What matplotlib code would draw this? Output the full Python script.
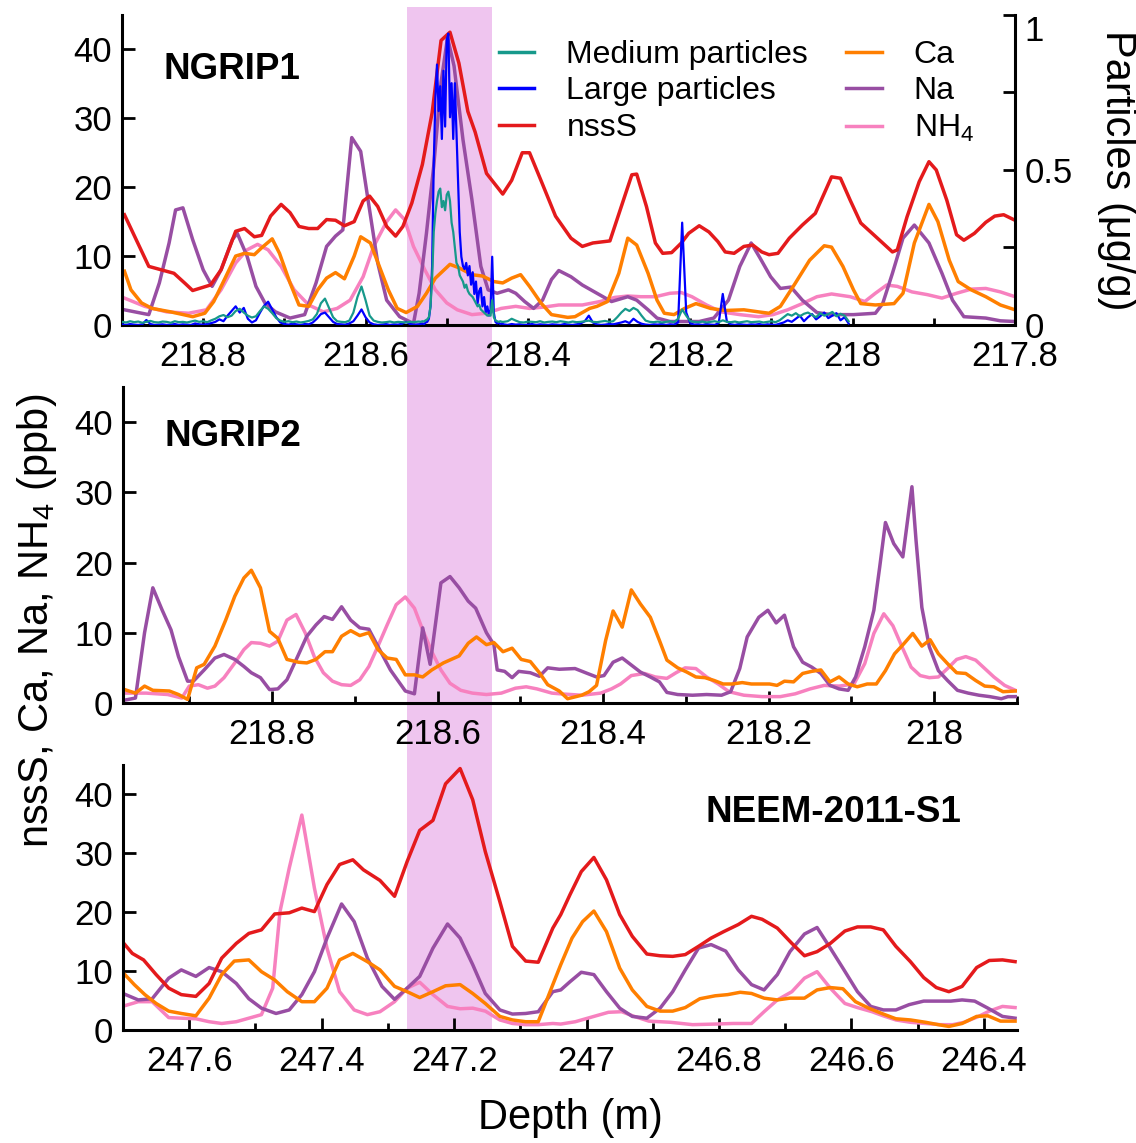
import numpy as np
import matplotlib
matplotlib.use("Agg")
import matplotlib.pyplot as plt
from matplotlib.ticker import MultipleLocator, FuncFormatter
from matplotlib.lines import Line2D
from matplotlib.patches import Rectangle

plt.rcParams['font.family'] = ['Liberation Sans', 'DejaVu Sans']
plt.rcParams['mathtext.fontset'] = 'custom'
plt.rcParams['mathtext.rm'] = 'Liberation Sans'
plt.rcParams['mathtext.it'] = 'Liberation Sans:italic'
plt.rcParams['mathtext.bf'] = 'Liberation Sans:bold'
plt.rcParams['mathtext.default'] = 'regular'

C_NSSS = '#e41a1c'
C_CA = '#ff7f00'
C_NA = '#984ea3'
C_NH4 = '#f781bf'
C_MED = '#17998b'
C_LARGE = '#0000ff'
C_BAND = '#efc5ef'

# ---------------- NGRIP1 (depth m, ppb) ----------------
N1_NSSS = [(218.897, 16.0), (218.867, 8.5), (218.836, 7.5), (218.822, 6.0), (218.813, 5.0), (218.791, 5.8),
           (218.778, 8.0), (218.760, 13.6), (218.749, 14.0), (218.737, 12.8), (218.728, 13.0), (218.717, 15.8),
           (218.704, 17.5), (218.693, 16.3), (218.682, 14.3), (218.670, 14.0), (218.659, 14.0), (218.648, 15.3),
           (218.637, 15.2), (218.626, 14.4), (218.614, 15.0), (218.603, 18.0), (218.595, 18.7), (218.585, 17.2),
           (218.574, 14.3), (218.563, 12.9), (218.554, 14.3), (218.543, 17.7), (218.530, 23.3), (218.518, 30.8),
           (218.507, 41.3), (218.496, 42.5), (218.485, 38.0), (218.474, 31.0), (218.465, 28.0), (218.451, 22.0),
           (218.431, 19.0), (218.420, 21.0), (218.407, 25.0), (218.398, 25.0), (218.384, 21.0), (218.366, 15.8),
           (218.347, 12.6), (218.333, 11.4), (218.320, 11.9), (218.299, 12.2), (218.281, 18.6), (218.272, 21.8),
           (218.266, 21.9), (218.254, 17.2), (218.243, 11.9), (218.234, 10.4), (218.223, 10.5), (218.211, 11.9),
           (218.202, 13.3), (218.189, 14.4), (218.177, 13.5), (218.166, 12.1), (218.157, 10.6), (218.146, 10.4),
           (218.134, 11.4), (218.123, 11.6), (218.112, 10.6), (218.103, 10.2), (218.092, 10.4), (218.078, 12.6),
           (218.062, 14.5), (218.046, 16.2), (218.035, 19.1), (218.026, 21.5), (218.015, 21.3), (218.003, 18.1),
           (217.990, 14.8), (217.976, 13.3), (217.963, 11.9), (217.951, 10.6), (217.945, 10.9), (217.933, 15.7),
           (217.918, 20.8), (217.906, 23.7), (217.897, 22.5), (217.884, 18.1), (217.872, 13.1), (217.863, 12.3),
           (217.850, 13.3), (217.836, 14.9), (217.825, 15.8), (217.814, 16.0), (217.800, 15.2)]

N1_CA = [(218.897, 7.8), (218.889, 5.1), (218.876, 3.2), (218.863, 2.4), (218.840, 1.9), (218.813, 1.2),
         (218.798, 1.7), (218.787, 3.4), (218.773, 6.8), (218.760, 10.0), (218.749, 10.4), (218.737, 10.2),
         (218.728, 11.2), (218.715, 12.5), (218.706, 10.4), (218.693, 6.1), (218.682, 2.9), (218.670, 2.7),
         (218.659, 5.1), (218.648, 6.8), (218.637, 7.6), (218.626, 6.7), (218.614, 10.0), (218.606, 12.8),
         (218.594, 11.9), (218.583, 8.5), (218.572, 5.1), (218.561, 2.4), (218.550, 1.8), (218.536, 2.7),
         (218.525, 4.6), (218.514, 6.8), (218.496, 8.8), (218.485, 8.3), (218.469, 7.3), (218.456, 7.1),
         (218.442, 6.3), (218.431, 6.1), (218.420, 6.8), (218.409, 7.3), (218.398, 5.6), (218.384, 3.2),
         (218.371, 1.5), (218.351, 1.1), (218.342, 1.2), (218.324, 2.4), (218.315, 2.7), (218.302, 3.4),
         (218.288, 7.5), (218.277, 12.6), (218.266, 11.6), (218.252, 7.5), (218.241, 3.6), (218.232, 1.7),
         (218.220, 1.5), (218.207, 2.4), (218.193, 3.1), (218.175, 2.4), (218.157, 2.1), (218.134, 2.2),
         (218.116, 1.9), (218.103, 1.7), (218.089, 2.7), (218.071, 6.0), (218.053, 9.4), (218.035, 11.5),
         (218.026, 11.3), (218.012, 8.5), (217.999, 5.1), (217.990, 3.1), (217.972, 2.9), (217.949, 3.1),
         (217.938, 4.6), (217.924, 11.9), (217.906, 17.5), (217.895, 15.0), (217.881, 9.4), (217.870, 6.3),
         (217.854, 5.1), (217.836, 4.1), (217.818, 2.9), (217.800, 2.2)]

N1_NA = [(218.897, 2.2), (218.867, 1.5), (218.854, 6.1), (218.842, 11.9), (218.834, 16.7), (218.825, 17.0),
         (218.813, 12.4), (218.800, 8.0), (218.789, 5.6), (218.778, 8.0), (218.764, 12.4), (218.758, 13.3),
         (218.746, 10.0), (218.735, 5.6), (218.724, 3.2), (218.711, 1.9), (218.693, 1.0), (218.675, 1.5),
         (218.661, 6.1), (218.648, 11.4), (218.637, 12.9), (218.628, 13.8), (218.617, 27.2), (218.606, 25.2),
         (218.597, 18.2), (218.585, 9.0), (218.574, 3.6), (218.558, 1.2), (218.541, 0.2), (218.534, 4.6),
         (218.525, 13.3), (218.516, 23.1), (218.507, 35.2), (218.499, 41.7), (218.491, 37.6), (218.480, 26.9),
         (218.469, 18.2), (218.458, 8.5), (218.449, 5.1), (218.438, 4.6), (218.424, 5.1), (218.415, 4.6),
         (218.404, 3.4), (218.393, 2.4), (218.382, 3.6), (218.371, 6.6), (218.362, 7.9), (218.347, 7.0),
         (218.333, 5.8), (218.315, 4.6), (218.297, 3.4), (218.277, 4.1), (218.266, 3.6), (218.252, 2.2),
         (218.241, 1.0), (218.225, 0.5), (218.207, 0.5), (218.189, 0.5), (218.171, 1.0), (218.153, 3.6),
         (218.139, 8.5), (218.125, 11.9), (218.114, 9.7), (218.101, 7.0), (218.089, 5.3), (218.076, 5.5),
         (218.062, 3.6), (218.044, 1.8), (218.026, 1.5), (217.999, 1.5), (217.972, 1.7), (217.963, 3.1),
         (217.951, 7.5), (217.938, 12.6), (217.924, 14.5), (217.906, 11.9), (217.890, 7.5), (217.877, 3.6),
         (217.863, 1.2), (217.836, 1.0), (217.818, 0.6), (217.800, 0.5)]

N1_NH4 = [(218.897, 3.9), (218.872, 2.7), (218.845, 1.9), (218.818, 1.7), (218.796, 2.2), (218.778, 5.1),
          (218.760, 9.0), (218.746, 10.9), (218.733, 11.7), (218.720, 10.9), (218.704, 8.5), (218.688, 5.1),
          (218.670, 2.9), (218.652, 1.9), (218.635, 2.4), (218.619, 3.6), (218.603, 7.0), (218.590, 11.4),
          (218.574, 15.0), (218.563, 16.7), (218.552, 15.3), (218.541, 11.4), (218.527, 8.0), (218.514, 5.1),
          (218.500, 3.2), (218.487, 2.2), (218.469, 1.5), (218.451, 1.7), (218.433, 2.4), (218.415, 2.7),
          (218.398, 2.4), (218.380, 2.6), (218.362, 2.9), (218.333, 2.9), (218.311, 3.4), (218.293, 4.0),
          (218.277, 4.2), (218.261, 4.1), (218.243, 4.1), (218.225, 4.6), (218.211, 4.7), (218.198, 4.1),
          (218.180, 2.9), (218.162, 1.9), (218.139, 1.5), (218.116, 1.2), (218.098, 1.5), (218.080, 2.2),
          (218.062, 3.1), (218.044, 4.1), (218.026, 4.5), (218.003, 4.1), (217.985, 3.4), (217.972, 4.6),
          (217.958, 5.8), (217.945, 5.6), (217.927, 4.8), (217.908, 4.4), (217.890, 3.9), (217.872, 4.6),
          (217.854, 5.2), (217.836, 5.3), (217.818, 4.8), (217.800, 4.1)]

# Particles (ug/g, given in units of 0.001 ug/g), three sampling segments
PART_A_START, PART_A_STEP = 218.900, 0.005
MED_A = [10, 8, 12, 9, 11, 7, 10, 13, 9, 8,
         11, 10, 7, 12, 9, 10, 8, 11, 14, 10,
         12, 9, 15, 20, 28, 32, 25, 30, 45, 52,
         40, 30, 24, 28, 45, 60, 52, 38, 22, 14,
         10, 12, 9, 11, 8, 10, 13, 18, 35, 70,
         85, 55, 25, 12, 10, 9, 14, 40, 90, 124,
         80, 30, 14, 10, 8, 9, 11, 8, 10, 9,
         8, 10, 9, 11]
LARGE_A = [2, 0, 3, 1, 0, 2, 16, 3, 0, 1,
           2, 0, 1, 3, 0, 2, 1, 0, 5, 2,
           1, 3, 6, 10, 18, 12, 30, 45, 60, 40,
           55, 20, 8, 15, 40, 62, 75, 50, 25, 8,
           3, 1, 4, 2, 0, 3, 2, 8, 20, 35,
           40, 25, 10, 3, 2, 1, 5, 12, 30, 50,
           25, 8, 2, 0, 1, 3, 0, 2, 1, 4,
           10, 3, 1, 2]
PART_B_START, PART_B_STEP = 218.532, 0.002
MED_B = [10, 12, 11, 15, 18, 25, 60, 150, 300, 360,
         400, 430, 440, 380, 400, 370, 420, 430, 400, 330,
         300, 250, 200, 190, 160, 150, 140, 120, 130, 110,
         100, 95, 90, 80, 70, 60, 65, 50, 45, 40,
         35, 30, 32, 30, 80, 25, 15, 12, 10, 12,
         10]
LARGE_B = [3, 5, 2, 8, 10, 20, 60, 190, 520, 730,
           840, 690, 770, 600, 820, 640, 920, 940, 670, 780,
           600, 780, 620, 460, 300, 220, 190, 180, 200, 160,
           190, 130, 170, 100, 140, 70, 110, 120, 60, 90,
           40, 60, 30, 50, 220, 40, 10, 5, 8, 3,
           5]
PART_C_START, PART_C_STEP = 218.430, 0.005
MED_C = [10, 12, 20, 14, 9, 8, 11, 10, 9, 12,
         8, 10, 11, 9, 12, 10, 8, 11, 9, 10,
         12, 14, 10, 9, 11, 13, 10, 12, 25, 40,
         52, 45, 55, 48, 30, 14, 10, 9, 11, 8,
         10, 12, 9, 20, 50, 30, 12, 10, 9, 11,
         8, 10, 12, 9, 15, 10, 9, 11, 8, 10,
         12, 9, 10, 11, 8, 10, 12, 9, 15, 25,
         35, 30, 38, 28, 36, 40, 32, 25, 38, 30,
         35, 42, 28, 36, 30, 12]
LARGE_C = [2, 0, 3, 1, 2, 0, 1, 3, 0, 2,
           1, 0, 2, 1, 0, 3, 1, 0, 2, 5,
           12, 30, 8, 2, 0, 1, 3, 2, 5, 8,
           12, 6, 20, 10, 4, 1, 0, 2, 1, 3,
           0, 2, 1, 8, 330, 40, 5, 1, 2, 0,
           3, 1, 0, 6, 100, 12, 2, 0, 3, 1,
           0, 2, 1, 3, 0, 2, 1, 0, 4, 8,
           15, 10, 20, 30, 12, 25, 35, 18, 28, 40,
           22, 30, 38, 15, 25, 5]

# ---------------- NGRIP2 ----------------
N2_CA = [(218.978, 1.9), (218.965, 1.4), (218.954, 2.4), (218.944, 1.8), (218.924, 1.7), (218.913, 1.2),
         (218.902, 0.5), (218.891, 5.0), (218.882, 5.5), (218.869, 8.1), (218.856, 11.8), (218.845, 15.2),
         (218.834, 17.8), (218.825, 18.9), (218.814, 16.4), (218.803, 10.2), (218.793, 9.2), (218.782, 6.2),
         (218.768, 5.8), (218.758, 5.7), (218.747, 6.2), (218.736, 7.3), (218.727, 7.3), (218.716, 9.5),
         (218.705, 10.3), (218.694, 9.6), (218.683, 10.0), (218.672, 7.6), (218.661, 6.4), (218.650, 6.2),
         (218.639, 4.0), (218.628, 4.0), (218.618, 3.7), (218.607, 4.7), (218.593, 5.7), (218.574, 6.7),
         (218.563, 8.5), (218.553, 9.4), (218.541, 8.3), (218.532, 8.6), (218.521, 7.3), (218.510, 7.8),
         (218.499, 6.2), (218.488, 5.9), (218.477, 4.3), (218.467, 2.6), (218.453, 1.7), (218.443, 0.6),
         (218.426, 1.1), (218.417, 1.6), (218.408, 2.5), (218.397, 8.9), (218.388, 13.1), (218.377, 10.8),
         (218.366, 16.1), (218.355, 14.1), (218.343, 12.2), (218.332, 8.9), (218.323, 6.1), (218.310, 5.0),
         (218.299, 4.4), (218.288, 3.7), (218.277, 3.6), (218.266, 3.2), (218.255, 2.7), (218.244, 2.7),
         (218.232, 2.9), (218.221, 2.7), (218.210, 2.7), (218.199, 2.7), (218.190, 2.5), (218.181, 3.1),
         (218.170, 3.0), (218.159, 4.2), (218.148, 4.5), (218.137, 4.7), (218.126, 3.0), (218.115, 3.7),
         (218.104, 2.7), (218.093, 2.3), (218.081, 2.7), (218.070, 2.7), (218.059, 4.6), (218.048, 7.0),
         (218.037, 8.4), (218.026, 9.9), (218.015, 8.1), (218.005, 9.0), (217.995, 7.0), (217.984, 5.6),
         (217.973, 4.3), (217.962, 4.2), (217.950, 3.2), (217.939, 2.4), (217.928, 2.3), (217.917, 1.6),
         (217.902, 1.7)]

N2_NA = [(218.978, 0.4), (218.965, 0.7), (218.954, 10.0), (218.944, 16.4), (218.933, 13.3), (218.922, 10.4),
         (218.913, 6.6), (218.902, 3.1), (218.895, 3.1), (218.882, 4.7), (218.869, 6.4), (218.858, 6.9),
         (218.845, 6.2), (218.834, 5.2), (218.825, 4.3), (218.814, 3.6), (218.803, 1.9), (218.793, 2.0),
         (218.782, 3.3), (218.768, 6.9), (218.758, 9.5), (218.747, 11.1), (218.737, 12.3), (218.727, 11.9),
         (218.716, 13.7), (218.705, 11.8), (218.694, 10.7), (218.683, 10.5), (218.670, 7.6), (218.657, 4.7),
         (218.639, 1.7), (218.628, 1.3), (218.618, 10.7), (218.609, 5.5), (218.596, 17.1), (218.585, 18.0),
         (218.574, 16.4), (218.563, 14.5), (218.554, 13.5), (218.541, 10.0), (218.532, 8.3), (218.528, 4.7),
         (218.519, 4.5), (218.510, 3.6), (218.502, 4.5), (218.488, 4.3), (218.477, 3.8), (218.467, 5.0),
         (218.453, 4.8), (218.434, 4.9), (218.419, 4.2), (218.408, 3.7), (218.399, 3.9), (218.388, 5.8),
         (218.377, 6.4), (218.366, 5.4), (218.355, 4.4), (218.343, 3.7), (218.332, 3.0), (218.323, 1.5),
         (218.310, 1.2), (218.292, 1.1), (218.275, 1.2), (218.257, 1.1), (218.246, 1.6), (218.235, 4.9),
         (218.226, 9.4), (218.212, 12.2), (218.201, 13.2), (218.191, 11.4), (218.181, 12.5), (218.170, 8.0),
         (218.159, 5.8), (218.148, 5.1), (218.137, 4.2), (218.126, 2.5), (218.115, 2.0), (218.104, 1.8),
         (218.095, 3.7), (218.084, 8.0), (218.073, 13.2), (218.066, 19.3), (218.059, 25.7), (218.049, 22.7),
         (218.038, 20.8), (218.027, 30.8), (218.022, 23.1), (218.015, 13.6), (218.006, 8.0), (217.995, 4.6),
         (217.984, 3.2), (217.972, 1.8), (217.959, 1.4), (217.946, 1.1), (217.933, 0.9), (217.919, 0.6),
         (217.911, 0.9), (217.902, 0.9)]

N2_NH4 = [(218.978, 1.4), (218.952, 1.4), (218.926, 1.2), (218.909, 0.7), (218.900, 2.4), (218.889, 2.6),
          (218.878, 2.1), (218.869, 2.4), (218.858, 3.6), (218.845, 5.7), (218.834, 7.6), (218.825, 8.6),
          (218.814, 8.5), (218.803, 8.1), (218.793, 8.8), (218.782, 11.8), (218.771, 12.6), (218.760, 10.0),
          (218.749, 6.6), (218.738, 4.3), (218.727, 3.1), (218.716, 2.6), (218.705, 2.5), (218.694, 3.3),
          (218.683, 5.2), (218.672, 8.1), (218.661, 11.1), (218.650, 14.0), (218.639, 15.1), (218.628, 13.5),
          (218.618, 10.4), (218.607, 7.3), (218.596, 4.7), (218.585, 2.8), (218.572, 1.8), (218.558, 1.4),
          (218.541, 1.2), (218.523, 1.4), (218.506, 2.1), (218.493, 2.3), (218.480, 2.0), (218.462, 1.4),
          (218.452, 1.3), (218.426, 1.1), (218.403, 1.4), (218.390, 2.0), (218.379, 2.7), (218.366, 3.9),
          (218.350, 4.2), (218.337, 3.7), (218.323, 3.5), (218.312, 4.3), (218.301, 5.0), (218.288, 4.9),
          (218.275, 3.7), (218.261, 2.7), (218.248, 1.6), (218.230, 1.1), (218.208, 0.9), (218.186, 0.9),
          (218.168, 1.3), (218.150, 2.0), (218.133, 2.5), (218.115, 2.4), (218.097, 2.7), (218.084, 5.6),
          (218.073, 9.9), (218.061, 12.7), (218.050, 11.0), (218.039, 8.0), (218.028, 5.1), (218.017, 3.9),
          (218.006, 3.6), (217.995, 3.7), (217.984, 4.9), (217.973, 6.2), (217.962, 6.6), (217.950, 6.1),
          (217.939, 4.9), (217.928, 3.7), (217.915, 2.5), (217.902, 1.8)]

# ---------------- NEEM-2011-S1 ----------------
NE_NSSS = [(247.698, 14.6), (247.686, 13.0), (247.669, 11.9), (247.650, 9.4), (247.631, 7.1), (247.612, 6.0),
           (247.590, 5.7), (247.570, 7.9), (247.551, 12.2), (247.529, 14.7), (247.510, 16.4), (247.491, 17.0),
           (247.471, 19.7), (247.449, 19.9), (247.430, 20.7), (247.411, 20.1), (247.392, 24.7), (247.373, 28.1),
           (247.353, 28.9), (247.337, 27.2), (247.312, 25.4), (247.290, 22.7), (247.271, 28.6), (247.252, 33.9),
           (247.232, 35.6), (247.213, 41.8), (247.191, 44.4), (247.172, 39.1), (247.153, 30.3), (247.131, 21.8),
           (247.112, 14.2), (247.092, 11.7), (247.073, 11.5), (247.051, 17.3), (247.039, 19.6), (247.025, 23.0),
           (247.008, 26.9), (246.989, 29.3), (246.970, 25.5), (246.950, 19.6), (246.931, 15.9), (246.909, 12.9),
           (246.889, 12.6), (246.870, 12.5), (246.851, 12.8), (246.831, 14.2), (246.812, 15.6), (246.793, 16.7),
           (246.771, 17.9), (246.751, 19.3), (246.735, 18.8), (246.712, 17.3), (246.690, 14.7), (246.671, 12.6),
           (246.652, 13.3), (246.632, 14.7), (246.610, 16.8), (246.591, 17.5), (246.571, 17.5), (246.552, 17.0),
           (246.533, 14.2), (246.511, 11.6), (246.491, 8.9), (246.472, 7.2), (246.453, 6.5), (246.433, 7.4),
           (246.411, 10.6), (246.392, 11.8), (246.372, 11.9), (246.353, 11.6)]

NE_CA = [(247.698, 9.5), (247.683, 7.7), (247.667, 6.0), (247.650, 4.5), (247.631, 3.2), (247.612, 2.8),
         (247.590, 2.4), (247.570, 5.4), (247.551, 9.4), (247.532, 11.7), (247.510, 11.9), (247.491, 9.9),
         (247.471, 8.5), (247.452, 6.5), (247.430, 4.8), (247.411, 4.8), (247.392, 7.1), (247.373, 11.9),
         (247.353, 13.0), (247.331, 11.6), (247.312, 10.2), (247.290, 7.4), (247.271, 6.5), (247.252, 5.5),
         (247.232, 6.5), (247.213, 7.5), (247.191, 7.7), (247.172, 6.2), (247.153, 4.5), (247.131, 2.3),
         (247.112, 1.7), (247.092, 1.4), (247.073, 1.4), (247.051, 7.7), (247.039, 11.1), (247.022, 15.6),
         (247.006, 18.4), (246.989, 20.2), (246.970, 16.7), (246.950, 10.5), (246.931, 6.8), (246.909, 4.0),
         (246.889, 3.2), (246.870, 3.2), (246.851, 3.8), (246.829, 5.3), (246.806, 5.8), (246.787, 6.0),
         (246.768, 6.4), (246.751, 6.2), (246.732, 5.4), (246.712, 5.1), (246.693, 5.4), (246.671, 5.4),
         (246.652, 6.8), (246.632, 7.2), (246.613, 7.0), (246.594, 4.8), (246.574, 3.7), (246.552, 2.7),
         (246.533, 1.9), (246.511, 1.7), (246.488, 1.3), (246.469, 0.9), (246.453, 0.6), (246.433, 1.1),
         (246.411, 2.3), (246.394, 2.4), (246.375, 1.5), (246.353, 1.5)]

NE_NA = [(247.698, 6.1), (247.677, 5.1), (247.656, 5.3), (247.631, 8.8), (247.612, 10.2), (247.590, 9.1),
         (247.570, 10.6), (247.551, 9.9), (247.529, 7.9), (247.510, 5.3), (247.491, 3.7), (247.469, 2.8),
         (247.449, 3.4), (247.430, 6.0), (247.411, 9.9), (247.392, 15.6), (247.370, 21.4), (247.351, 18.4),
         (247.331, 12.2), (247.309, 7.4), (247.290, 5.2), (247.271, 7.1), (247.252, 9.1), (247.232, 13.9),
         (247.210, 18.0), (247.191, 15.6), (247.172, 11.1), (247.153, 6.2), (247.131, 3.4), (247.112, 2.7),
         (247.092, 2.8), (247.073, 3.1), (247.051, 6.5), (247.039, 6.8), (247.025, 8.2), (247.008, 9.8),
         (246.989, 9.4), (246.970, 6.5), (246.950, 3.7), (246.931, 2.3), (246.909, 2.0), (246.889, 3.7),
         (246.870, 6.5), (246.851, 10.2), (246.831, 13.9), (246.812, 14.5), (246.790, 13.4), (246.771, 10.2),
         (246.751, 7.7), (246.732, 6.8), (246.712, 9.4), (246.693, 13.3), (246.671, 16.3), (246.652, 17.4),
         (246.632, 13.9), (246.613, 10.5), (246.591, 6.5), (246.571, 4.0), (246.552, 3.4), (246.533, 3.4),
         (246.513, 4.3), (246.491, 4.9), (246.469, 4.9), (246.450, 4.9), (246.433, 5.1), (246.414, 4.9),
         (246.394, 3.7), (246.372, 2.3), (246.353, 2.0)]

NE_NH4 = [(247.698, 4.1), (247.677, 4.8), (247.656, 4.8), (247.631, 2.1), (247.612, 2.0), (247.590, 1.9),
          (247.570, 1.4), (247.551, 1.1), (247.529, 1.4), (247.510, 2.0), (247.491, 2.6), (247.474, 7.1),
          (247.463, 20.1), (247.449, 27.5), (247.430, 36.5), (247.411, 24.1), (247.392, 13.9), (247.373, 6.5),
          (247.351, 3.4), (247.331, 2.6), (247.312, 3.1), (247.290, 4.8), (247.271, 7.1), (247.252, 8.1),
          (247.232, 6.0), (247.210, 4.0), (247.191, 3.6), (247.172, 3.7), (247.153, 3.2), (247.131, 1.7),
          (247.112, 1.1), (247.092, 0.9), (247.073, 0.9), (247.051, 1.1), (247.039, 1.0), (247.017, 1.4),
          (246.989, 2.3), (246.967, 3.0), (246.947, 3.1), (246.928, 2.3), (246.906, 1.5), (246.873, 1.3),
          (246.840, 0.9), (246.806, 1.0), (246.779, 1.1), (246.751, 1.1), (246.732, 3.1), (246.712, 5.1),
          (246.690, 6.5), (246.671, 8.8), (246.652, 9.9), (246.632, 7.1), (246.610, 4.5), (246.591, 3.8),
          (246.569, 3.1), (246.552, 2.4), (246.533, 1.7), (246.511, 1.3), (246.488, 1.1), (246.466, 0.9),
          (246.447, 0.9), (246.430, 1.3), (246.408, 2.3), (246.392, 3.2), (246.372, 4.0), (246.353, 3.8)]

# highlighted depth interval (in NGRIP1 depth)
BAND_N1 = (218.549, 218.444)

XLIM_N1 = (218.90, 217.80)
XLIM_N2 = (218.98, 217.90)
XLIM_NE = (247.70, 246.35)
YLIM = (0, 45)
YLIM_PART = (0, 1.0)

TICK_FS = 25
LAB_FS = 30
LEG_FS = 23
TITLE_FS = 26.5
LW = 2.5
LW_P = 1.6


def xy(pairs):
    a = np.array(pairs, dtype=float)
    return a[:, 0], a[:, 1]


def fmt(v, p):
    s = f"{v:.1f}"
    if s.endswith('.0'):
        s = s[:-2]
    return s


fig = plt.figure(figsize=(11.36, 11.43), dpi=100)
ax1 = fig.add_axes([0.1074, 0.7157, 0.7861, 0.2712])
ax2 = fig.add_axes([0.1083, 0.3850, 0.7870, 0.2764])
ax3 = fig.add_axes([0.1083, 0.0989, 0.7870, 0.2318])


def style(ax, xlim, xmaj_len, xmin_len):
    ax.set_facecolor('none')
    ax.set_xlim(*xlim)
    ax.set_ylim(*YLIM)
    ax.xaxis.set_major_locator(MultipleLocator(0.2))
    ax.xaxis.set_minor_locator(MultipleLocator(0.1))
    ax.xaxis.set_major_formatter(FuncFormatter(fmt))
    ax.yaxis.set_major_locator(MultipleLocator(10))
    ax.tick_params(axis='x', which='major', direction='in', length=xmaj_len, width=2,
                   labelsize=TICK_FS, pad=11)
    ax.tick_params(axis='x', which='minor', direction='in', length=xmin_len, width=2)
    ax.tick_params(axis='y', which='major', direction='in', length=9, width=2,
                   labelsize=TICK_FS, pad=7, right=False)
    for s in ('top', 'right'):
        ax.spines[s].set_visible(False)
    for s in ('left', 'bottom'):
        ax.spines[s].set_linewidth(2.2)


style(ax1, XLIM_N1, 5, 5)
style(ax2, XLIM_N2, 9, 5)
style(ax3, XLIM_NE, 9, 5)

# highlight band (figure level, spanning all panels)
x0 = fig.transFigure.inverted().transform(ax1.transData.transform((BAND_N1[0], 0)))[0]
x1 = fig.transFigure.inverted().transform(ax1.transData.transform((BAND_N1[1], 0)))[0]
band = Rectangle((x0, 0.0989), x1 - x0, 0.9939 - 0.0989, transform=fig.transFigure,
                 facecolor=C_BAND, edgecolor='none', zorder=-5)
fig.add_artist(band)

# NGRIP1
for data, c in ((N1_NH4, C_NH4), (N1_NA, C_NA), (N1_CA, C_CA), (N1_NSSS, C_NSSS)):
    d, v = xy(data)
    ax1.plot(d, v, color=c, lw=LW, solid_joinstyle='round')

ax1b = ax1.twinx()
ax1b.set_facecolor('none')
ax1b.set_ylim(*YLIM_PART)
ax1b.set_xlim(*XLIM_N1)
dA = PART_A_START - PART_A_STEP * np.arange(len(MED_A))
dB = PART_B_START - PART_B_STEP * np.arange(len(MED_B))
dC = PART_C_START - PART_C_STEP * np.arange(len(MED_C))
pd_ = np.concatenate([dA, dB, dC])
med = np.concatenate([MED_A, MED_B, MED_C]) / 1000.0
large = np.concatenate([LARGE_A, LARGE_B, LARGE_C]) / 1000.0
ax1b.plot(pd_, large, color=C_LARGE, lw=LW_P)
ax1b.plot(pd_, med, color=C_MED, lw=LW_P)
for s in ('top', 'left', 'bottom'):
    ax1b.spines[s].set_visible(False)
ax1b.spines['right'].set_linewidth(2.2)
ax1b.yaxis.set_major_locator(MultipleLocator(0.5))
ax1b.yaxis.set_minor_locator(MultipleLocator(0.25))
ax1b.yaxis.set_major_formatter(FuncFormatter(lambda v, p: f"{v:g}"))
ax1b.tick_params(axis='y', which='both', direction='in', length=9, width=2,
                 labelsize=TICK_FS, pad=7)
ax1.text(0.046, 0.823, 'NGRIP1', transform=ax1.transAxes, fontsize=TITLE_FS,
         fontweight='bold', va='center', ha='left')

handles = [Line2D([], [], color=C_MED, lw=LW),
           Line2D([], [], color=C_LARGE, lw=LW),
           Line2D([], [], color=C_NSSS, lw=LW),
           Line2D([], [], color=C_CA, lw=LW),
           Line2D([], [], color=C_NA, lw=LW),
           Line2D([], [], color=C_NH4, lw=LW)]
labels = ['Medium particles', 'Large particles', 'nssS', 'Ca', 'Na', 'NH$_4$']
ax1b.legend(handles, labels, ncol=2, loc='upper left', bbox_to_anchor=(0.4225, 0.92),
            frameon=False, fontsize=LEG_FS, handlelength=1.1, handletextpad=1.0,
            columnspacing=1.2, labelspacing=0.21, borderaxespad=0, borderpad=0)

# NGRIP2
for data, c in ((N2_NH4, C_NH4), (N2_NA, C_NA), (N2_CA, C_CA)):
    d, v = xy(data)
    ax2.plot(d, v, color=c, lw=LW, solid_joinstyle='round')
ax2.text(0.046, 0.842, 'NGRIP2', transform=ax2.transAxes, fontsize=TITLE_FS,
         fontweight='bold', va='center', ha='left')

# NEEM
for data, c in ((NE_NH4, C_NH4), (NE_NA, C_NA), (NE_CA, C_CA), (NE_NSSS, C_NSSS)):
    d, v = xy(data)
    ax3.plot(d, v, color=c, lw=LW, solid_joinstyle='round')
ax3.text(0.651, 0.819, 'NEEM-2011-S1', transform=ax3.transAxes, fontsize=TITLE_FS,
         fontweight='bold', va='center', ha='left')

fig.text(0.033, 0.4567, 'nssS, Ca, Na, NH$_4$ (ppb)', rotation=90, ha='center', va='center',
         fontsize=LAB_FS)
fig.text(0.5018, 0.022, 'Depth (m)', ha='center', va='center', fontsize=LAB_FS)
fig.text(0.983, 1 - 170 / 1143, 'Particles (μg/g)', rotation=270, ha='center', va='center',
         fontsize=LAB_FS)

# top right-axis label "1" sits just below the axis end, as in the original
fig.canvas.draw()
for t in ax1b.yaxis.get_major_ticks():
    if abs(t.get_loc() - 1.0) < 1e-9:
        t.label2.set_verticalalignment('top')

fig.savefig('out.png', dpi=100, facecolor='white')
